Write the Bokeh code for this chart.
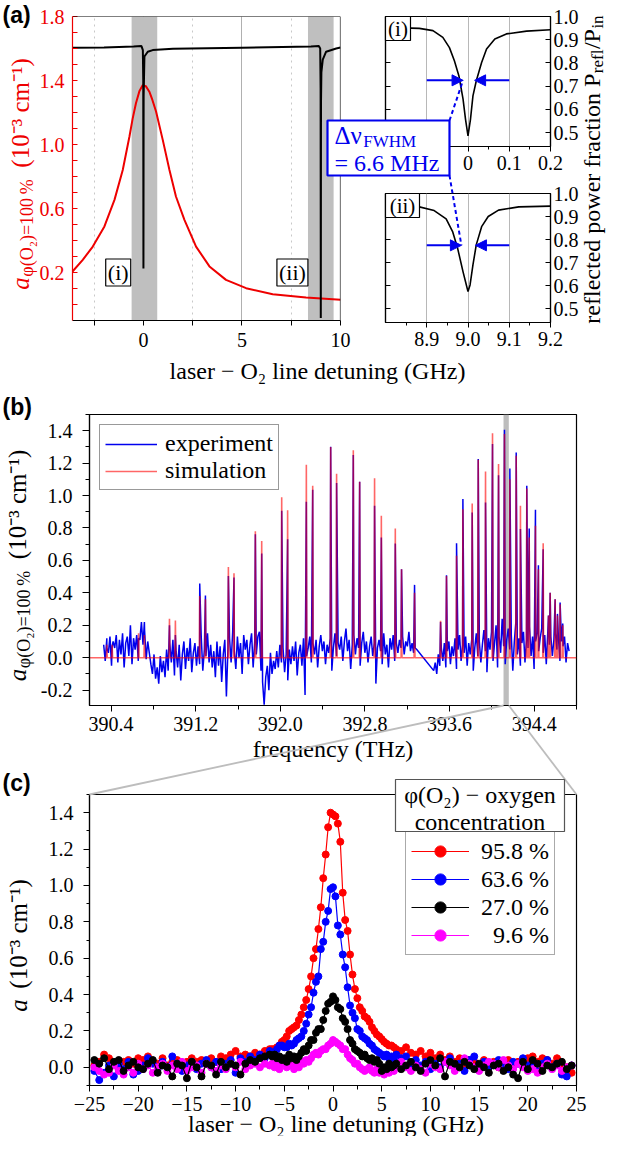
import numpy as np
from bokeh.plotting import figure
from bokeh.layouts import column
from bokeh.models import (Range1d, LinearAxis, FixedTicker, NumeralTickFormatter,
                          CustomJSTickFormatter, BoxAnnotation, Arrow, NormalHead,
                          Legend, LegendItem, Span)
from bokeh.core.properties import value
from bokeh.embed import file_html
from bokeh.resources import INLINE

SERIF = "Liberation Serif"
SANS = "Liberation Sans"
W, H = 607, 1136

# ---------------------------------------------------------------- data (a)
A_ABS_X = [-3.6, -3.08, -2.57, -1.98, -1.47, -1.05, -0.71, -0.55, -0.38, -0.2, -0.04, 0.12, 0.3,
           0.45, 0.64, 0.98, 1.32, 1.65, 2.08, 2.67, 3.35, 4.19, 5.21, 6.56, 8.25, 10.0]
A_ABS_Y = [0.206, 0.279, 0.362, 0.488, 0.654, 0.841, 1.05, 1.16, 1.258, 1.335, 1.37, 1.365, 1.33,
           1.28, 1.206, 1.029, 0.841, 0.675, 0.529, 0.362, 0.238, 0.154, 0.102, 0.064, 0.044, 0.03]
A_REFL_X = [-3.6, -2.0, -0.5, -0.1, -0.03, -0.01, 0.0, 0.01, 0.05, 0.22, 0.47, 1.5, 5.0, 8.5,
            8.9, 8.97, 8.99, 9.0, 9.01, 9.03, 9.1, 9.27, 9.78, 10.0]
A_REFL_Y = [1.605, 1.607, 1.612, 1.615, 1.59, 1.4, 0.225, 1.3, 1.55, 1.58, 1.59, 1.598, 1.605, 1.612,
            1.615, 1.6, 1.35, -0.085, 1.25, 1.45, 1.53, 1.58, 1.6, 1.606]
A_BAND_LEFT = [-0.6, 8.35]
A_BAND_RIGHT = [0.7, 9.65]
A_TAGS = ["(i)", "(ii)"]
A_TAG_X = [-1.28, 7.56]
A_TAG_Y = [0.2, 0.2]
A_XTICKS = [0, 5, 10]
A_XMINOR = [-2.5, 2.5, 7.5]
A_YTICKS = [0.2, 0.6, 1.0, 1.4, 1.8]
A_YMINOR = [0.0, 0.1, 0.3, 0.4, 0.5, 0.7, 0.8, 0.9, 1.1, 1.2, 1.3, 1.5, 1.6, 1.7]

AI_X = [-0.2, -0.118, -0.085, -0.061, -0.045, -0.033, -0.022, -0.012, -0.006, 0.0,
        0.006, 0.012, 0.02, 0.033, 0.045, 0.065, 0.093, 0.142, 0.2]
AI_Y = [0.953, 0.949, 0.939, 0.91, 0.866, 0.809, 0.744, 0.644, 0.557, 0.486,
        0.557, 0.658, 0.722, 0.802, 0.86, 0.903, 0.925, 0.937, 0.943]
AII_X = [8.8, 8.877, 8.918, 8.947, 8.963, 8.975, 8.988, 8.996, 9.0, 9.005, 9.012, 9.02,
         9.033, 9.049, 9.074, 9.123, 9.2]
AII_Y = [0.95, 0.944, 0.926, 0.89, 0.833, 0.761, 0.66, 0.603, 0.574, 0.603, 0.69, 0.777,
         0.856, 0.9, 0.928, 0.942, 0.945]
AI_ARROW_Y = 0.725
AI_ARROWS = [(-0.1, -0.012), (0.1, 0.016)]
AII_ARROW_Y = 0.775
AII_ARROWS = [(8.9, 8.984), (9.1, 9.018)]
AI_XTICKS = [-0.2, -0.1, 0.0, 0.1, 0.2]
AI_XMINOR = [-0.15, -0.05, 0.05, 0.15]
AII_XTICKS = [8.9, 9.0, 9.1, 9.2]
AII_XMINOR = [8.85, 8.95, 9.05, 9.15]
INSET_YTICKS = [0.5, 0.6, 0.7, 0.8, 0.9, 1.0]

# ---------------------------------------------------------------- data (b)
B_PEAK_F = [390.36, 390.41, 390.66, 390.715, 390.952, 391.008, 391.238, 391.292, 391.509, 391.562,
            391.764, 391.824, 392.013, 392.069, 392.246, 392.306, 392.476, 392.532, 392.690, 392.750,
            392.891, 392.955, 393.087, 393.146, 393.269, 393.515, 393.571, 393.666, 393.726, 393.814,
            393.871, 393.940, 394.006, 394.063, 394.119, 394.170, 394.230, 394.270, 394.330, 394.353,
            394.412, 394.440, 394.485, 394.535, 394.551, 394.598, 394.620, 394.645, 394.670]
B_PEAK_SIM = [0.08, 0.08, 0.15, 0.14, 0.24, 0.23, 0.38, 0.36, 0.56, 0.52,
              0.78, 0.72, 0.99, 0.91, 1.19, 1.06, 1.30, 1.135, 1.28, 1.085,
              1.106, 0.875, 0.797, 0.545, 0.40, 0.227, 0.504, 0.628, 0.916, 0.951,
              1.221, 1.149, 1.384, 1.194, 1.38, 1.101, 1.246, 0.937, 1.044, 0.741,
              0.813, 0.545, 0.706, 0.26, 0.40, 0.36, 0.26, 0.33, 0.20]
B_PEAK_EXP = [0.06, 0.07, 0.12, 0.22, 0.20, 0.14, 0.457, 0.383, 0.504, 0.494,
              0.762, 0.642, 0.906, 0.731, 0.962, 1.036, 1.301, 1.077, 1.25, 1.085,
              0.937, 0.741, 0.704, 0.545, 0.449, 0.22, 0.508, 0.706, 0.978, 0.896,
              1.225, 0.957, 1.318, 1.126, 1.406, 1.167, 1.266, 0.793, 1.06, 0.797,
              0.912, 0.57, 0.669, 0.26, 0.40, 0.36, 0.27, 0.34, 0.21]
B_NOISE1_SPAN = (390.33, 393.29)
B_NOISE1 = [0.08, -0.02, 0.12, 0.03, 0.13, -0.05, 0.10, 0.06, 0.14, -0.03,
            0.11, 0.02, 0.15, -0.06, 0.09, 0.13, 0.01, 0.20, -0.04, 0.12,
            0.05, 0.14, -0.02, 0.11, 0.22, 0.08, 0.17, -0.01, 0.10, 0.03,
            -0.04, -0.10, 0.02, -0.13, -0.06, -0.16, 0.01, -0.09, -0.02, -0.12,
            0.05, -0.08, 0.09, -0.03, 0.11, -0.11, 0.04, -0.06, 0.08, -0.14,
            0.02, 0.10, -0.07, 0.06, -0.02, 0.12, -0.09, 0.03, 0.09, -0.05,
            0.07, -0.04, 0.13, -0.08, 0.05, 0.01, 0.15, -0.03, 0.08, -0.06,
            0.04, -0.12, 0.10, -0.05, 0.07, -0.15, 0.02, 0.11, -0.24, 0.06,
            0.12, -0.03, 0.16, 0.04, -0.07, 0.13, 0.00, 0.09, -0.10, 0.14,
            0.05, 0.11, -0.04, 0.08, 0.15, -0.06, 0.10, 0.02, 0.13, 0.16,
            -0.08, -0.15, -0.29, -0.12, -0.05, -0.20, 0.03, -0.10, -0.02, -0.07,
            0.04, -0.06, 0.08, -0.03, 0.06, -0.09, 0.02, -0.14, 0.05, -0.04,
            0.07, -0.02, 0.10, -0.11, 0.03, 0.08, -0.05, 0.12, -0.23, 0.01,
            0.06, 0.13, -0.03, 0.09, 0.02, 0.11, -0.06, 0.07, 0.14, 0.04,
            0.10, -0.04, 0.08, 0.03, 0.12, -0.08, 0.06, 0.15, 0.01, 0.09,
            0.05, 0.13, -0.02, 0.10, 0.18, 0.04, 0.11, -0.07, 0.08, 0.14,
            0.02, 0.12, 0.06, -0.05, 0.09, 0.16, 0.03, 0.10, -0.03, 0.07,
            0.13, 0.01, 0.09, -0.16, 0.06, 0.11, 0.04, -0.04, 0.15, 0.02,
            0.08, -0.06, 0.12, 0.05, 0.14, -0.02, 0.09, 0.03, 0.11, 0.06,
            0.13, 0.02, 0.10, 0.07, 0.16, 0.04, 0.09, 0.03, 0.06, 0.05]
B_NOISE2_SPAN = (393.45, 394.73)
B_NOISE2 = [-0.08, -0.03, -0.10, 0.02, -0.05, 0.06, -0.02, 0.09, -0.06, 0.04,
            0.10, -0.04, 0.07, 0.01, 0.12, -0.07, 0.05, 0.14, -0.02, 0.08,
            0.03, 0.13, -0.05, 0.09, 0.02, 0.11, -0.08, 0.06, 0.15, 0.01,
            0.10, -0.03, 0.08, 0.17, 0.04, -0.09, 0.12, 0.05, 0.16, -0.02,
            0.09, 0.20, -0.06, 0.13, 0.03, 0.24, 0.07, -0.04, 0.11, 0.18,
            0.05, 0.14, -0.08, 0.10, 0.22, 0.02, 0.12, -0.05, 0.09, 0.16,
            -0.03, 0.11, 0.06, 0.19, 0.01, 0.13, -0.07, 0.10, 0.15, 0.04,
            0.12, 0.18, 0.03, 0.14, -0.04, 0.16, 0.08, 0.13, 0.01, 0.11,
            0.15, 0.05, 0.12, -0.02, 0.10, 0.07, 0.13, -0.03, 0.09, 0.04]
B_BAND = (394.11, 394.16)
B_XTICKS = [390.4, 391.2, 392.0, 392.8, 393.6, 394.4]
B_XMINOR = [390.8, 391.6, 392.4, 393.2, 394.0, 394.8]
B_YTICKS = [-0.2, 0.0, 0.2, 0.4, 0.6, 0.8, 1.0, 1.2, 1.4]
B_YMINOR = [-0.1, 0.1, 0.3, 0.5, 0.7, 0.9, 1.1, 1.3, 1.5]

# ---------------------------------------------------------------- data (c)
C_X = np.concatenate([np.arange(-24.5, -6.4, 0.5), np.arange(-6.25, 6.26, 0.25),
                      np.arange(6.5, 24.51, 0.5)])
C_RED = [0.01, 0.03, 0.07, 0.05, 0.02, -0.01, 0.03, 0.04, 0.02, 0.05,
         0.04, 0.06, 0.03, 0.02, 0.05, 0.01, 0.03, 0.04, 0.02, 0.03,
         0.05, 0.03, 0.04, 0.02, 0.05, 0.03, 0.06, 0.05, 0.07, 0.09,
         0.06, 0.07, 0.06, 0.08, 0.07, 0.09, 0.10,
         0.10, 0.10, 0.11, 0.12, 0.14, 0.15, 0.17, 0.20, 0.21, 0.22,
         0.23, 0.26, 0.29, 0.33, 0.37, 0.43, 0.50, 0.60, 0.65, 0.76,
         0.88, 1.04, 1.17, 1.32, 1.40, 1.39, 1.38, 1.34, 1.24, 0.96,
         0.81, 0.75, 0.62, 0.51, 0.43, 0.38, 0.33, 0.31, 0.28, 0.27,
         0.25, 0.22, 0.20, 0.18, 0.17, 0.155, 0.14, 0.13, 0.12, 0.12, 0.11,
         0.10, 0.09, 0.11, 0.08, 0.07, 0.09, 0.06, 0.08, 0.05, 0.07,
         0.04, 0.06, 0.03, 0.05, 0.02, 0.04, 0.03, 0.01, 0.04, 0.02,
         0.03, 0.00, 0.02, 0.04, 0.01, 0.03, 0.02, 0.05, 0.06, 0.03,
         0.05, 0.04, 0.02, 0.05, 0.01, 0.00, -0.03]
C_BLUE = [-0.02, -0.07, -0.03, 0.01, -0.05, 0.02, -0.01, 0.03, -0.04, -0.02,
          0.01, 0.05, 0.02, -0.01, 0.03, 0.00, 0.06, 0.02, -0.02, 0.01,
          0.03, -0.01, 0.02, 0.04, 0.00, 0.03, -0.01, 0.02, 0.04, -0.03,
          0.05, 0.03, 0.06, 0.04, 0.07, 0.05, 0.09,
          0.07, 0.08, 0.10, 0.12, 0.12, 0.11, 0.11, 0.13, 0.12, 0.13,
          0.15, 0.16, 0.17, 0.20, 0.24, 0.29, 0.33, 0.41, 0.47, 0.50,
          0.65, 0.69, 0.80, 0.86, 0.98, 0.99, 0.94, 0.78, 0.73, 0.62,
          0.55, 0.44, 0.34, 0.30, 0.27, 0.21, 0.20, 0.17, 0.16, 0.15,
          0.13, 0.12, 0.10, 0.09, 0.08, 0.07, 0.06, 0.07, 0.05, 0.06, 0.04,
          0.07, 0.05, 0.06, 0.02, 0.04, 0.01, 0.03, -0.01, 0.02, 0.00,
          0.03, 0.05, 0.01, 0.02, -0.02, 0.04, 0.06, 0.01, 0.03, 0.00,
          0.02, 0.04, 0.01, -0.01, 0.03, 0.02, 0.05, 0.01, 0.03, -0.02,
          0.02, 0.04, 0.00, 0.02, -0.04, -0.05, 0.01]
C_BLACK = [0.04, 0.02, 0.05, -0.01, 0.03, 0.04, -0.02, 0.01, 0.03, 0.00,
           -0.01, 0.02, 0.04, -0.03, 0.01, 0.00, -0.05, 0.02, 0.01, -0.06,
           0.03, 0.00, -0.05, 0.02, 0.01, -0.04, 0.03, 0.00, 0.02, 0.01,
           -0.04, 0.02, 0.04, 0.03, 0.05, 0.06, 0.07,
           0.06, 0.07, 0.05, 0.06, 0.04, 0.05, 0.03, 0.07, 0.05, 0.06,
           0.04, 0.06, 0.08, 0.10, 0.09, 0.12, 0.15, 0.15, 0.19, 0.21,
           0.21, 0.26, 0.31, 0.35, 0.36, 0.39, 0.37, 0.33, 0.32, 0.27,
           0.25, 0.21, 0.15, 0.13, 0.10, 0.09, 0.08, 0.06, 0.07, 0.05,
           0.04, 0.05, 0.03, 0.04, 0.02, -0.02, 0.00, -0.01, 0.02, 0.00, 0.01,
           0.02, -0.01, 0.01, 0.03, 0.00, -0.02, 0.02, 0.04, 0.01, 0.05,
           -0.05, 0.03, 0.02, 0.00, 0.03, 0.01, -0.01, 0.02, 0.00, -0.03,
           0.01, 0.02, -0.02, 0.00, -0.04, -0.06, 0.03, -0.01, 0.04, 0.02,
           -0.02, 0.01, 0.00, 0.02, 0.03, -0.01, 0.01]
C_MAG = [0.00, -0.02, -0.04, -0.03, 0.01, -0.02, -0.04, 0.00, -0.03, 0.02,
         -0.01, 0.01, -0.03, 0.00, 0.02, -0.02, 0.01, -0.01, 0.03, -0.02,
         0.00, 0.01, -0.03, 0.02, 0.00, -0.02, 0.01, -0.01, 0.02, 0.00,
         0.03, -0.01, 0.01, 0.02, 0.00, 0.02, 0.01,
         0.02, 0.00, 0.03, -0.01, 0.02, 0.03, 0.00, 0.02, 0.01, -0.01,
         0.02, 0.00, 0.03, 0.02, 0.04, 0.03, 0.05, 0.07, 0.08, 0.07,
         0.09, 0.10, 0.10, 0.12, 0.13, 0.15, 0.14, 0.13, 0.12, 0.10,
         0.10, 0.07, 0.05, 0.04, 0.02, 0.02, 0.00, -0.01, -0.02, -0.01,
         0.00, -0.02, -0.03, -0.01, -0.03, -0.02, -0.04, -0.01, -0.03, 0.00, -0.02,
         0.01, 0.03, 0.00, -0.02, 0.01, -0.01, -0.03, 0.02, 0.00, -0.01,
         0.03, 0.01, -0.02, 0.00, 0.05, 0.02, 0.00, -0.02, 0.01, 0.03,
         0.02, 0.00, 0.04, 0.01, -0.01, 0.02, 0.00, -0.02, -0.01, -0.03,
         0.00, 0.02, -0.01, 0.01, -0.02, 0.00, 0.01]
C_LABELS = ["95.8 %", "63.6 %", "27.0 %", "\u20079.6 %"]
C_COLORS = ["#ff0000", "#0000ff", "#000000", "#ff00ff"]
C_XTICKS = [-25, -20, -15, -10, -5, 0, 5, 10, 15, 20, 25]
C_XMINOR = [-22.5, -17.5, -12.5, -7.5, -2.5, 2.5, 7.5, 12.5, 17.5, 22.5]
C_YTICKS = [0.0, 0.2, 0.4, 0.6, 0.8, 1.0, 1.2, 1.4]
C_YMINOR = [-0.1, 0.1, 0.3, 0.5, 0.7, 0.9, 1.1, 1.3, 1.5]

# ---------------------------------------------------------------- geometry (canvas px, y down)
FA, RA = (72, 340, 16, 320), ((-3.6, 10.0), (-0.1, 1.8))
FAI, RAI = (385, 550, 16, 146), ((-0.2, 0.2), (0.44, 1.0))
FAII, RAII = (385, 550, 193, 322), ((8.8, 9.2), (0.44, 1.0))
FB, RB = (89, 576, 414, 705), ((390.196, 394.80), (-0.295, 1.5))
FC, RC = (89, 576, 794, 1085), ((-25, 25), (-0.1, 1.5))


def to_px(frame, rng, x, y):
    x0, x1, y0, y1 = frame
    (a, b), (c, d) = rng
    return x0 + (x - a) / (b - a) * (x1 - x0), y1 - (y - c) / (d - c) * (y1 - y0)


STACK = {"margin-top": f"-{H}px"}


def panel(frame, rng, first=False):
    x0, x1, y0, y1 = frame
    kw = {} if first else {"styles": STACK}
    p = figure(width=W, height=H, x_range=Range1d(*rng[0]), y_range=Range1d(*rng[1]),
               output_backend="svg", toolbar_location=None, frame_align=False,
               min_border_left=x0, min_border_right=W - x1,
               min_border_top=y0, min_border_bottom=H - y1, **kw)
    p.background_fill_color = None
    p.border_fill_color = None
    p.outline_line_color = "black"
    p.outline_line_width = 1.2
    p.xgrid.grid_line_color = None
    p.ygrid.grid_line_color = None
    return p


def style_axis(ax, ticks, minor, color="black", tin=0, tout=6, mtin=0, mtout=3,
               standoff=6, size="20px"):
    ax.ticker = FixedTicker(ticks=ticks, minor_ticks=minor)
    ax.major_label_text_font = SERIF
    ax.major_label_text_font_size = size
    ax.major_label_text_color = color
    ax.axis_line_color = color
    ax.axis_line_width = 1.2
    ax.major_tick_line_color = color
    ax.minor_tick_line_color = color
    ax.major_tick_in = tin
    ax.major_tick_out = tout
    ax.minor_tick_in = mtin
    ax.minor_tick_out = mtout
    ax.major_label_standoff = standoff


def style_legend(leg):
    leg.spacing = 0
    leg.glyph_height = 26
    leg.label_height = 26
    leg.label_text_font = SERIF
    leg.label_text_font_size = "24px"
    leg.label_text_color = "black"
    leg.border_line_width = 1.2


EMPTY = CustomJSTickFormatter(code="return ''")
BLUE = "#0000ee"

# ---------------------------------------------------------------- panel (a) main
pA = panel(FA, RA, first=True)
pA.outline_line_color = None
style_axis(pA.yaxis[0], A_YTICKS, A_YMINOR, color="#ee0000", tin=5, tout=0, mtin=5, mtout=0,
           standoff=8)
pA.yaxis[0].formatter = NumeralTickFormatter(format="0.0")
style_axis(pA.xaxis[0], A_XTICKS, A_XMINOR, tout=5, mtout=5, standoff=7)
pA.xgrid.grid_line_color = "#b0b0b0"
pA.xgrid.minor_grid_line_color = "#c8c8c8"
pA.xgrid.minor_grid_line_dash = "dotted"
for lft, rgt in zip(A_BAND_LEFT, A_BAND_RIGHT):
    pA.add_layout(BoxAnnotation(left=lft, right=rgt, fill_color="#bfbfbf", fill_alpha=1.0,
                                line_color=None, level="underlay"))
pA.line(A_ABS_X, A_ABS_Y, line_color="#ee0000", line_width=2)
pA.line(A_REFL_X, A_REFL_Y, line_color="black", line_width=2)
pA.rect(x=A_TAG_X, y=A_TAG_Y, width=[25, 31], height=27, width_units="screen",
        height_units="screen", fill_color="white", line_color="black", line_width=1.2)
pA.text(x=A_TAG_X, y=A_TAG_Y, text=A_TAGS, text_align="center", text_baseline="middle",
        text_font=value(SERIF), text_font_size="22px")
pA.add_layout(Span(location=RA[1][1], dimension="width", line_color="black", line_width=1.2))
pA.add_layout(Span(location=RA[0][1], dimension="height", line_color="black", line_width=1.2))

# ---------------------------------------------------------------- insets
insets = []
for frame, rng, xs, ys, xt, xm, ay, arrows, fmt in [
        (FAI, RAI, AI_X, AI_Y, AI_XTICKS, AI_XMINOR, AI_ARROW_Y, AI_ARROWS, None),
        (FAII, RAII, AII_X, AII_Y, AII_XTICKS, AII_XMINOR, AII_ARROW_Y, AII_ARROWS, "0.0")]:
    p = panel(frame, rng)
    style_axis(p.xaxis[0], xt, xm, tout=5, mtout=3, standoff=4)
    if fmt:
        p.xaxis[0].formatter = NumeralTickFormatter(format=fmt)
    style_axis(p.yaxis[0], INSET_YTICKS, [], tin=5, tout=0, standoff=0)
    p.yaxis[0].formatter = EMPTY
    rax = LinearAxis()
    style_axis(rax, INSET_YTICKS, [], tin=5, tout=0, standoff=3)
    rax.formatter = NumeralTickFormatter(format="0.0")
    p.add_layout(rax, "right")
    p.xgrid.grid_line_color = "#b8b8b8"
    p.line(xs, ys, line_color="black", line_width=1.6)
    for xs0, xe0 in arrows:
        p.add_layout(Arrow(end=NormalHead(size=11, fill_color=BLUE, line_color=BLUE),
                           x_start=xs0, y_start=ay, x_end=xe0, y_end=ay,
                           line_color=BLUE, line_width=2))
    insets.append(p)
pAi, pAii = insets

# ---------------------------------------------------------------- panel (b)
pB = panel(FB, RB)
style_axis(pB.yaxis[0], B_YTICKS, B_YMINOR, tout=7, mtout=4, standoff=10)
pB.yaxis[0].formatter = NumeralTickFormatter(format="0.0")
style_axis(pB.xaxis[0], B_XTICKS, B_XMINOR, tout=6, mtout=4, standoff=5)
pB.xaxis[0].formatter = NumeralTickFormatter(format="0.0")
pB.add_layout(BoxAnnotation(left=B_BAND[0], right=B_BAND[1], fill_color="#bdbdbd",
                            fill_alpha=1.0, line_color=None, level="underlay"))
n1 = np.linspace(B_NOISE1_SPAN[0], B_NOISE1_SPAN[1], len(B_NOISE1))
n2 = np.linspace(B_NOISE2_SPAN[0], B_NOISE2_SPAN[1], len(B_NOISE2))
exp_x = np.concatenate([n1, n2, B_PEAK_F])
exp_y = np.concatenate([B_NOISE1, B_NOISE2, B_PEAK_EXP])
order = np.argsort(exp_x)
exp_x, exp_y = exp_x[order], exp_y[order]
sim_x, sim_y = [RB[0][0]], [0.0]
for f, h in zip(B_PEAK_F, B_PEAK_SIM):
    sim_x += [f - 0.004, f, f + 0.004]
    sim_y += [0.0, h, 0.0]
sim_x.append(RB[0][1])
sim_y.append(0.0)
r_exp = pB.line(exp_x, exp_y, line_color=BLUE, line_width=1.5)
r_sim = pB.line(sim_x, sim_y, line_color="#ff0000", line_alpha=0.6, line_width=1.6)
legB = Legend(items=[LegendItem(label="experiment", renderers=[r_exp]),
                     LegendItem(label="simulation", renderers=[r_sim])],
              location="top_left")
style_legend(legB)
legB.margin = 10
legB.padding = 5
legB.glyph_width = 52
legB.label_standoff = 8
legB.border_line_color = "#333333"
pB.add_layout(legB)

# ---------------------------------------------------------------- panel (c)
pC = panel(FC, RC)
style_axis(pC.yaxis[0], C_YTICKS, C_YMINOR, tout=6, mtout=3, standoff=10)
pC.yaxis[0].formatter = NumeralTickFormatter(format="0.0")
style_axis(pC.xaxis[0], C_XTICKS, C_XMINOR, tout=6, mtout=4, standoff=5)
pC.xaxis[0].formatter = CustomJSTickFormatter(
    code="return tick < 0 ? '\u2212' + Math.abs(tick) : String(tick)")
rend = {}
for idx in [0, 1, 3, 2]:
    ys = [C_RED, C_BLUE, C_BLACK, C_MAG][idx]
    col = C_COLORS[idx]
    rl = pC.line(C_X, ys, line_color=col, line_width=1.2)
    rs = pC.scatter(C_X, ys, size=7, fill_color=col, line_color=col)
    rend[idx] = [rl, rs]
legC = Legend(items=[LegendItem(label=C_LABELS[i], renderers=rend[i]) for i in range(4)],
              location=(316, 130))
style_legend(legC)
legC.spacing = 0
legC.glyph_height = 28
legC.label_height = 28
legC.padding = 5
legC.glyph_width = 58
legC.label_standoff = 12
legC.border_line_color = "#555555"
pC.add_layout(legC)

# ---------------------------------------------------------------- overlay: texts and links
pO = figure(width=W, height=H, x_range=Range1d(0, W), y_range=Range1d(0, H), min_border=0,
            x_axis_location=None, y_axis_location=None, output_backend="svg",
            toolbar_location=None, styles=STACK, frame_align=False)
pO.background_fill_color = None
pO.border_fill_color = None
pO.outline_line_color = None
pO.grid.visible = False

TW = {' ': 250, '(': 333, ')': 333, '/': 278, '.': 250, '%': 833, '=': 564, '\u2212': 564,
      'a': 444, 'c': 444, 'd': 500, 'e': 444, 'f': 333, 'i': 278, 'l': 278, 'm': 778, 'n': 500,
      'o': 500, 'p': 500, 'r': 333, 't': 278, 'w': 722, 'y': 500, 'P': 556, 'O': 722, 'F': 556,
      'W': 944, 'H': 722, 'M': 889, 'z': 444, '\u03c6': 600, '\u0394': 612, '\u03bd': 500,
      '\u2082': 420, '\u207b': 540, '\u00b3': 300, '\u00b9': 300, '\u2009': 200}


def tw(s, size):
    return sum(TW.get(ch, 500) for ch in s) / 1000.0 * size


def otext(x, y, t, size, color="black", align="left", baseline="middle", font=SERIF,
          style="normal", angle=0.0):
    pO.text(x=[x], y=[H - y], text=[t], text_align=align, text_baseline=baseline,
            text_font=value(font), text_font_size=f"{size}px", text_font_style=style,
            text_color=color, angle=angle)


def vtext(pieces, xc, yc, color):
    # pieces: (text, font size, offset across, style, gap before)
    total = sum(tw(t, s) + g for t, s, dx, st, g in pieces)
    cur = yc + total / 2.0
    for t, s, dx, st, g in pieces:
        cur -= g
        otext(xc + dx, cur, t, s, color=color, style=st, angle=np.pi / 2)
        cur -= tw(t, s)


def orect(x0, x1, y0, y1, color, lw):
    pO.rect(x=[(x0 + x1) / 2], y=[H - (y0 + y1) / 2], width=x1 - x0, height=y1 - y0,
            fill_color="white", line_color=color, line_width=lw)


def oline(p0, p1, color, lw, dash="solid"):
    pO.line([p0[0], p1[0]], [H - p0[1], H - p1[1]], line_color=color, line_width=lw,
            line_dash=dash)


for lab, yy in [("(a)", 1), ("(b)", 393), ("(c)", 769)]:
    otext(2, yy, lab, 23, font=SANS, style="bold", baseline="top")

YLAB = [("a", 25, 0, "italic", 0), ("\u03c6(O\u2082)=100\u2009%", 18, 6, "normal", 2),
        ("(10\u207b\u00b3 cm\u207b\u00b9)", 25, 0, "normal", 10)]
vtext(YLAB, 20, (FA[2] + FA[3]) / 2, "#ee0000")
vtext(YLAB, 17, (FB[2] + FB[3]) / 2, "black")
vtext([("a", 25, 0, "italic", 0), ("(10\u207b\u00b3 cm\u207b\u00b9)", 25, 0, "normal", 12)],
      18, (FC[2] + FC[3]) / 2, "black")
vtext([("reflected power fraction P", 24, 0, "normal", 0), ("refl", 17, 6, "normal", 0.5),
       ("/P", 24, 0, "normal", 0.5), ("in", 17, 6, "normal", 0.5)], 591,
      (FAI[2] + FAII[3]) / 2, "black")

otext(317, 370, "laser \u2212 O\u2082 line detuning (GHz)", 24, align="center")
otext((FB[0] + FB[1]) / 2, 748, "frequency (THz)", 24, align="center")
otext((FC[0] + FC[1]) / 2 + 3, 1123, "laser \u2212 O\u2082 line detuning (GHz)", 24,
      align="center")

# inset corner tags
for fr, tag, wdt in [(FAI, "(i)", 25), (FAII, "(ii)", 34)]:
    orect(fr[0], fr[0] + wdt, fr[2], fr[2] + 24, "black", 1.2)
    otext(fr[0] + wdt / 2, fr[2] + 12, tag, 21, align="center")

# FWHM box with dashed links to the arrow tips
BX0, BX1, BY0, BY1 = 327, 449, 120, 175
tip1 = to_px(FAI, RAI, AI_ARROWS[0][1], AI_ARROW_Y)
tip2 = to_px(FAII, RAII, AII_ARROWS[0][1], AII_ARROW_Y)
oline((BX1, BY0), tip1, BLUE, 2, "4 3")
oline((BX1, BY1), tip2, BLUE, 2, "4 3")
orect(BX0, BX1, BY0, BY1, BLUE, 2.2)
otext(334, 135, "\u0394\u03bd", 25, color=BLUE)
otext(334 + tw("\u0394\u03bd", 25) + 1, 141, "FWHM", 17, color=BLUE)
otext(334, 162, "= 6.6 MHz", 24, color=BLUE)

# links from the band of (b) to the top corners of (c)
bl = to_px(FB, RB, B_BAND[0], RB[1][0])
br = to_px(FB, RB, B_BAND[1], RB[1][0])
oline(bl, (FC[0], FC[2]), "#bdbdbd", 1.8)
oline(br, (FC[1], FC[2]), "#bdbdbd", 1.8)

# legend title box of (c)
TX0, TX1, TY0, TY1 = 395, 564, 779, 831
orect(TX0, TX1, TY0, TY1, "#555555", 1.2)
otext((TX0 + TX1) / 2, 794, "\u03c6(O\u2082) \u2212 oxygen", 24, align="center")
otext((TX0 + TX1) / 2, 821, "concentration", 24, align="center")

layout = column(pA, pAi, pAii, pB, pC, pO)
open("out.html", "w").write(file_html(layout, INLINE, "O2 absorption"))
